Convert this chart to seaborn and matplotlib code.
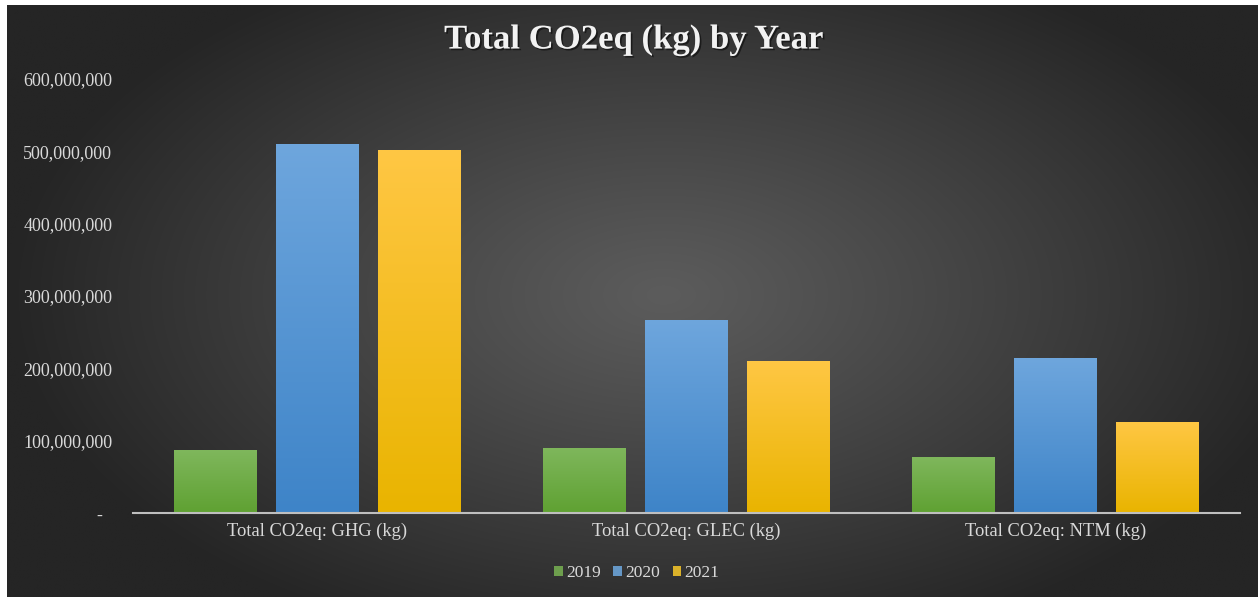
import numpy as np
import pandas as pd
import matplotlib
matplotlib.use("Agg")
import matplotlib.pyplot as plt
import matplotlib.patheffects as pe
from matplotlib.ticker import FuncFormatter, MultipleLocator
import seaborn as sns

# ---- data ----
categories = ["Total CO2eq: GHG (kg)", "Total CO2eq: GLEC (kg)", "Total CO2eq: NTM (kg)"]
years = ["2019", "2020", "2021"]
values_2019 = [87_000_000, 90_000_000, 77_000_000]
values_2020 = [510_000_000, 267_000_000, 214_000_000]
values_2021 = [502_000_000, 210_000_000, 126_000_000]

df = pd.DataFrame({
    "category": categories * 3,
    "year": [y for y in years for _ in categories],
    "value": values_2019 + values_2020 + values_2021,
})

# base colour plus gradient (top, bottom) for each series
palette = {"2019": "#6aab40", "2020": "#5597d6", "2021": "#f9c20c"}
gradients = {
    "2019": ("#7fb75c", "#5fa132"),
    "2020": ("#6ea6dd", "#3e84c8"),
    "2021": ("#ffc744", "#e9b400"),
}

sns.set_theme(style="white")
plt.rcParams["font.family"] = ["Liberation Serif", "DejaVu Serif"]

W, H, DPI = 1260, 597, 100
fig = plt.figure(figsize=(W / DPI, H / DPI), dpi=DPI, facecolor="white")

# dark radial background panel
bg = fig.add_axes([7 / W, 0, (1258 - 7) / W, 592 / H], zorder=0)
gx, gy = np.meshgrid(np.linspace(-1, 1, 600), np.linspace(-1, 1, 300))
r = np.sqrt(((gx - 0.05) / 1.05) ** 2 + ((gy + 0.02) / 1.25) ** 2)
r = np.clip(r, 0, 1)
shade = (0x5c + (0x25 - 0x5c) * r ** 1.1) / 255.0
bg.imshow(np.dstack([shade] * 3), aspect="auto", extent=[0, 1, 0, 1], interpolation="bilinear")
bg.set_axis_off()

ax = fig.add_axes([133 / W, (H - 513) / H, (1240 - 133) / W, (513 - 79) / H], zorder=1)
ax.patch.set_alpha(0)

sns.barplot(data=df, x="category", y="value", hue="year", palette=palette,
            width=0.83, gap=0.195, ax=ax, legend=True, errorbar=None, zorder=3)

# vertical gradient fill inside each bar
for year, container in zip(years, ax.containers):
    top, bot = gradients[year]
    c_top = np.array(matplotlib.colors.to_rgb(top))
    c_bot = np.array(matplotlib.colors.to_rgb(bot))
    t = np.linspace(0, 1, 128)[:, None]
    img = (c_top * (1 - t) + c_bot * t)[:, None, :]
    for bar in container:
        x0, y0 = bar.get_x(), bar.get_y()
        w, h = bar.get_width(), bar.get_height()
        bar.set_path_effects([pe.SimplePatchShadow(offset=(0, 0), shadow_rgbFace="black", alpha=0.35, rho=1.0)])
        bar.set_edgecolor("none")
        im = ax.imshow(img, extent=[x0, x0 + w, y0, y0 + h], aspect="auto",
                       zorder=4, interpolation="bilinear")
        im.set_clip_path(bar)

ax.set_xlim(-0.5, 2.5)
ax.set_ylim(0, 600_000_000)
ax.yaxis.set_major_locator(MultipleLocator(100_000_000))
ax.yaxis.set_major_formatter(FuncFormatter(lambda v, p: "-  " if v == 0 else f"{int(v):,}"))

label_color = "#d9d9d9"
ax.tick_params(axis="both", length=0, colors=label_color)
ax.tick_params(axis="y", pad=15, labelsize=13)
ax.tick_params(axis="x", pad=7, labelsize=13.3)
ax.set_xlabel("")
ax.set_ylabel("")
for s in ["top", "right", "left"]:
    ax.spines[s].set_visible(False)
ax.spines["bottom"].set_color("#bfbfbf")
ax.spines["bottom"].set_linewidth(1.5)
ax.spines["bottom"].set_zorder(5)
ax.grid(False)

# legend below the axis
handles, labels = ax.get_legend_handles_labels()
ax.legend_.remove()
for h in handles:
    h.set_edgecolor("none")
leg = fig.legend(handles, labels, loc="center", bbox_to_anchor=(637 / W, 1 - 573 / H),
                 ncol=3, frameon=False, fontsize=12.5, handlelength=0.5, handleheight=0.5,
                 handletextpad=0.2, columnspacing=0.7)
for txt in leg.get_texts():
    txt.set_color(label_color)

fig.text(634 / W, 1 - 40 / H, "Total CO2eq (kg) by Year", ha="center", va="center",
         fontsize=25, fontweight="bold", color="#f2f2f2",
         path_effects=[pe.withSimplePatchShadow(offset=(1.2, -1.2), shadow_rgbFace="black", alpha=0.5)])

fig.savefig("out.png", dpi=DPI, facecolor="white")
